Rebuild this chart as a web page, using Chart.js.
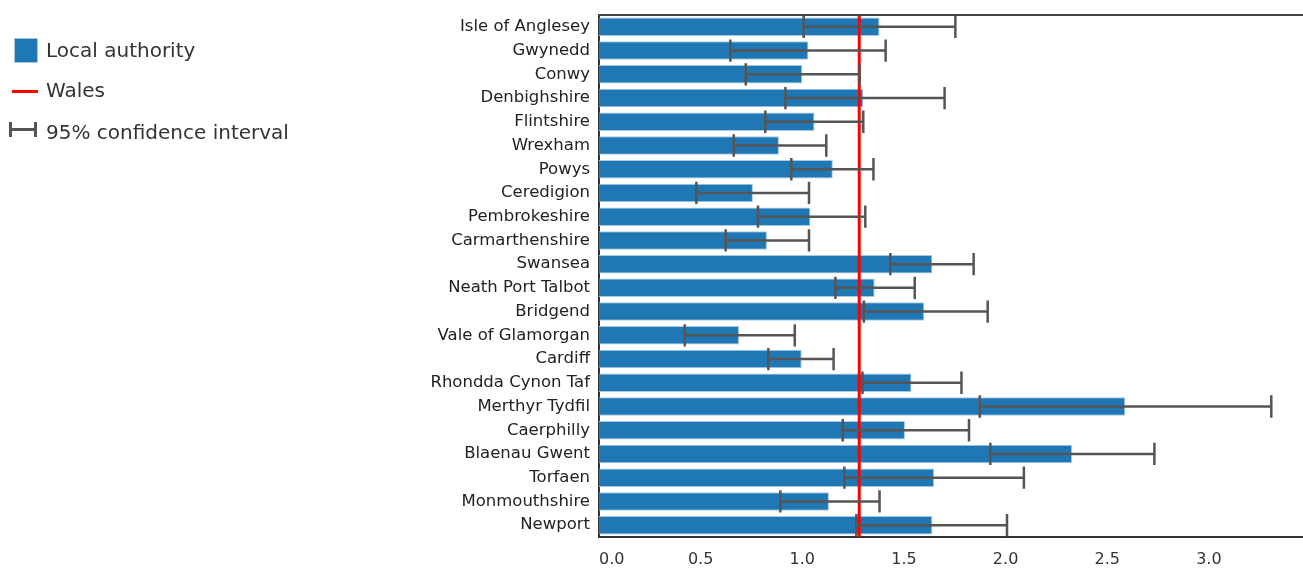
<!DOCTYPE html>
<html>
<head>
<meta charset="utf-8">
<script src="https://cdn.jsdelivr.net/npm/chart.js@4.4.0/dist/chart.umd.min.js"></script>
<style>
  body { margin: 0; background: #fff; font-family: 'DejaVu Sans', Verdana, sans-serif; }
  #wrap { position: relative; width: 1303px; height: 570px; }
  #chart { position: absolute; left: 0; top: 0; }
  .key { position: absolute; left: 46px; font-size: 20px; line-height: 24px; color: #333; white-space: nowrap; }
  .swatch { position: absolute; left: 14px; top: 38px; width: 24px; height: 25px; background: #1f77b4; box-sizing: border-box; border: 1px solid #a5c8e4; }
  .redline { position: absolute; left: 12px; top: 89.5px; width: 26px; height: 3px; background: #ff0000; }
  .ci { position: absolute; background: #555; }
</style>
</head>
<body>
<div id="wrap">
  <canvas id="chart" width="1303" height="570"></canvas>
  <div class="swatch"></div>
  <div class="key" style="top:38px">Local authority</div>
  <div class="redline"></div>
  <div class="key" style="top:78px">Wales</div>
  <div class="ci" style="left:9px;top:128px;width:27px;height:2.5px"></div>
  <div class="ci" style="left:9px;top:122px;width:2.5px;height:15px"></div>
  <div class="ci" style="left:34px;top:122px;width:2.5px;height:15px"></div>
  <div class="key" style="top:120px">95% confidence interval</div>
</div>
<script>
const areas = ["Isle of Anglesey", "Gwynedd", "Conwy", "Denbighshire", "Flintshire", "Wrexham",
  "Powys", "Ceredigion", "Pembrokeshire", "Carmarthenshire", "Swansea", "Neath Port Talbot",
  "Bridgend", "Vale of Glamorgan", "Cardiff", "Rhondda Cynon Taf", "Merthyr Tydfil",
  "Caerphilly", "Blaenau Gwent", "Torfaen", "Monmouthshire", "Newport"];
const rates = [1.38, 1.03, 1.00, 1.30, 1.06, 0.885, 1.15, 0.757, 1.04, 0.826, 1.64, 1.356,
  1.60, 0.689, 0.997, 1.537, 2.589, 1.505, 2.327, 1.648, 1.131, 1.64];
const lowerCI = [1.007, 0.646, 0.722, 0.917, 0.818, 0.663, 0.946, 0.479, 0.782, 0.623, 1.433, 1.163,
  1.303, 0.422, 0.833, 1.296, 1.873, 1.199, 1.925, 1.207, 0.892, 1.266];
const upperCI = [1.753, 1.41, 1.282, 1.70, 1.30, 1.118, 1.35, 1.033, 1.31, 1.033, 1.843, 1.553,
  1.912, 0.963, 1.154, 1.783, 3.307, 1.82, 2.732, 2.09, 1.38, 2.007];
const walesRate = 1.28;
const xTicks = [0, 0.5, 1, 1.5, 2, 2.5, 3];
const xMax = 3.463;

// wales line, confidence intervals and the top frame line
const overlays = {
  id: 'overlays',
  afterDatasetsDraw(chart) {
    const { ctx, chartArea, scales: { x, y } } = chart;
    ctx.save();

    const wx = x.getPixelForValue(walesRate);
    ctx.strokeStyle = '#ff0000';
    ctx.lineWidth = 3;
    ctx.beginPath();
    ctx.moveTo(wx, chartArea.top);
    ctx.lineTo(wx, chartArea.bottom);
    ctx.stroke();

    ctx.strokeStyle = '#555';
    ctx.lineWidth = 2.5;
    const half = (chartArea.bottom - chartArea.top) / areas.length * 0.47;
    areas.forEach((a, i) => {
      const cy = y.getPixelForValue(i);
      const x0 = x.getPixelForValue(lowerCI[i]);
      const x1 = x.getPixelForValue(upperCI[i]);
      ctx.beginPath();
      ctx.moveTo(x0, cy);
      ctx.lineTo(x1, cy);
      ctx.moveTo(x0, cy - half);
      ctx.lineTo(x0, cy + half);
      ctx.moveTo(x1, cy - half);
      ctx.lineTo(x1, cy + half);
      ctx.stroke();
    });

    ctx.strokeStyle = '#444';
    ctx.lineWidth = 2;
    ctx.beginPath();
    ctx.moveTo(chartArea.left - 1, chartArea.top);
    ctx.lineTo(chartArea.right, chartArea.top);
    ctx.stroke();
    ctx.restore();
  }
};

new Chart(document.getElementById('chart'), {
  type: 'bar',
  data: {
    labels: areas,
    datasets: [{
      label: 'Local authority',
      data: rates,
      backgroundColor: '#1f77b4',
      borderColor: '#a5c8e4',
      borderWidth: 1,
      barPercentage: 0.78,
      categoryPercentage: 1
    }]
  },
  options: {
    indexAxis: 'y',
    responsive: false,
    animation: false,
    layout: { padding: { top: 15, right: 0, bottom: 0, left: 0 } },
    plugins: {
      legend: { display: false },
      tooltip: { enabled: false }
    },
    scales: {
      x: {
        min: 0,
        max: xMax,
        grid: { display: false, drawTicks: false },
        border: { display: true, color: '#333', width: 2 },
        afterBuildTicks: (scale) => {
          scale.ticks = xTicks.map(v => ({ value: v })).concat([{ value: xMax }]);
        },
        afterFit: (scale) => {
          scale.height = 33;
          scale.paddingLeft = 0;
          scale.paddingRight = 0;
        },
        ticks: {
          autoSkip: false,
          maxRotation: 0,
          align: 'inner',
          padding: 13,
          color: '#333',
          font: { family: 'DejaVu Sans', size: 16 },
          callback: (v) => v >= xMax ? '' : Number(v).toFixed(1)
        }
      },
      y: {
        grid: { display: false, drawTicks: false },
        border: { display: true, color: '#333', width: 2 },
        afterFit: (scale) => {
          scale.width = 599;
          scale.paddingTop = 0;
          scale.paddingBottom = 0;
        },
        ticks: {
          autoSkip: false,
          padding: 9,
          color: '#222',
          font: { family: 'DejaVu Sans', size: 16.5 }
        }
      }
    }
  },
  plugins: [overlays]
});
</script>
</body>
</html>
